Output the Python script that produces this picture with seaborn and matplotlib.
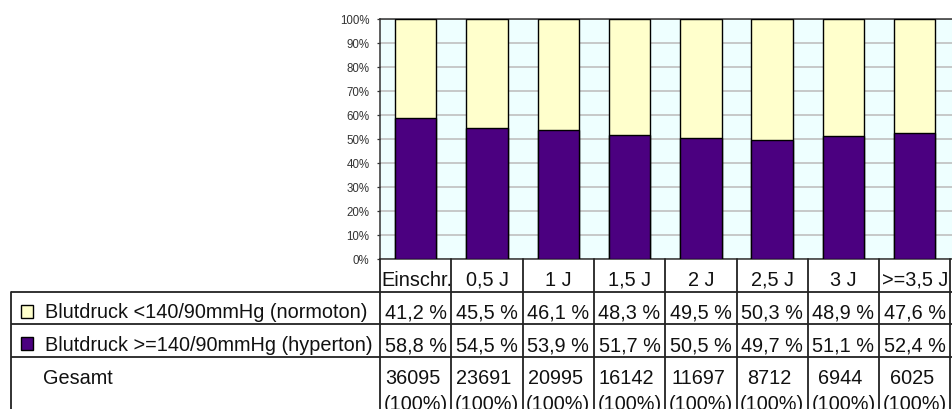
import matplotlib
matplotlib.use("Agg")
import matplotlib.pyplot as plt
import matplotlib.transforms as mtransforms
import seaborn as sns
import pandas as pd

categories = ["Einschr.", "0,5 J", "1 J", "1,5 J", "2 J", "2,5 J", "3 J", ">=3,5 J"]
normoton = [41.2, 45.5, 46.1, 48.3, 49.5, 50.3, 48.9, 47.6]
hyperton = [58.8, 54.5, 53.9, 51.7, 50.5, 49.7, 51.1, 52.4]
gesamt = [36095, 23691, 20995, 16142, 11697, 8712, 6944, 6025]
label_norm = "Blutdruck <140/90mmHg (normoton)"
label_hyp = "Blutdruck >=140/90mmHg (hyperton)"
label_ges = "Gesamt"
yticks = list(range(0, 101, 10))

YELLOW = "#FFFFCC"
PURPLE = "#4B0080"
BG = "#EEFFFF"
LINE = "#222222"

sns.set_theme(style="white")
plt.rcParams["font.family"] = ["Liberation Sans", "DejaVu Sans"]

W, H = 952, 409
fig = plt.figure(figsize=(W / 100, H / 100), dpi=100)

# bar axes: left 380px, top 19px, bottom 259px; category width ~71.3px
catw = 71.3
left, top, bottom = 380, 19, 259
ax_w = 8.1 * catw
ax = fig.add_axes([left / W, (H - bottom) / H, ax_w / W, (bottom - top) / H])
ax.set_facecolor(BG)

df = pd.DataFrame({"cat": categories,
                   "total": [a + b for a, b in zip(normoton, hyperton)],
                   "hyp": hyperton})
sns.barplot(data=df, x="cat", y="total", color=YELLOW, saturation=1, width=0.58,
            edgecolor="black", linewidth=1.0, ax=ax, zorder=3)
sns.barplot(data=df, x="cat", y="hyp", color=PURPLE, saturation=1, width=0.58,
            edgecolor="black", linewidth=1.0, ax=ax, zorder=4)

ax.set_xlim(-0.5, 7.6)
ax.set_ylim(0, 100)
ax.set_yticks(yticks)
ax.set_yticklabels([f"{v}%" for v in yticks])
ax.set_xticks([])
ax.set_xlabel("")
ax.set_ylabel("")
ax.yaxis.grid(True, color="#C0C0C0", linewidth=1.2, zorder=1)
ax.set_axisbelow(True)
ax.tick_params(axis="y", left=True, length=2.5, width=0.9, color="#333333",
               pad=5.0, labelsize=8.3, labelcolor="#333333")
for s in ["left", "bottom", "top"]:
    ax.spines[s].set_visible(True)
    ax.spines[s].set_color("#333333")
    ax.spines[s].set_linewidth(1.1)
ax.spines["right"].set_visible(False)

# table overlay in pixel coordinates
tab = fig.add_axes([0, 0, 1, 1], zorder=5)
tab.set_xlim(0, W)
tab.set_ylim(H, 0)
tab.axis("off")
blend = mtransforms.blended_transform_factory(ax.transData, tab.transData)

fs = 14.3
rows_y = [259, 292, 324, 357, H + 5]
# horizontal lines
for y in rows_y[1:4]:
    tab.plot([11, W + 5], [y, y], color=LINE, lw=1.3, solid_capstyle="butt")
# left border
tab.plot([11, 11], [292, H + 5], color=LINE, lw=1.3)
# vertical lines at category boundaries
for k in range(len(categories) + 1):
    tab.plot([k - 0.5, k - 0.5], [259, H + 5], color=LINE, lw=1.3, transform=blend)

# legend squares
tab.add_patch(plt.Rectangle((20.7, 304.5), 12.6, 13, facecolor=YELLOW,
                            edgecolor="black", lw=1.0))
tab.add_patch(plt.Rectangle((20.7, 337), 12.6, 13, facecolor=PURPLE,
                            edgecolor="black", lw=1.0))
tab.text(45, 318.3, label_norm, fontsize=fs, va="baseline", ha="left", color="#111111")
tab.text(45, 351, label_hyp, fontsize=fs, va="baseline", ha="left", color="#111111")
tab.text(43, 384.5, label_ges, fontsize=fs, va="baseline", ha="left", color="#111111")

for i, cat in enumerate(categories):
    if i == 0:
        tab.text(i - 0.48, 285.5, cat, fontsize=fs, va="baseline", ha="left",
                 transform=blend, color="#111111")
    else:
        tab.text(i, 285.5, cat, fontsize=fs, va="baseline", ha="center",
                 transform=blend, color="#111111")
    tab.text(i, 318.3, f"{normoton[i]:.1f} %".replace(".", ","), fontsize=fs,
             va="baseline", ha="center", transform=blend, color="#111111")
    tab.text(i, 351, f"{hyperton[i]:.1f} %".replace(".", ","), fontsize=fs,
             va="baseline", ha="center", transform=blend, color="#111111")
    tab.text(i - 0.04, 384.5, f"{gesamt[i]}", fontsize=fs, va="baseline", ha="center",
             transform=blend, color="#111111")
    tab.text(i, 410, "(100%)", fontsize=fs, va="baseline", ha="center",
             transform=blend, color="#111111")

fig.savefig("out.png", dpi=100)
